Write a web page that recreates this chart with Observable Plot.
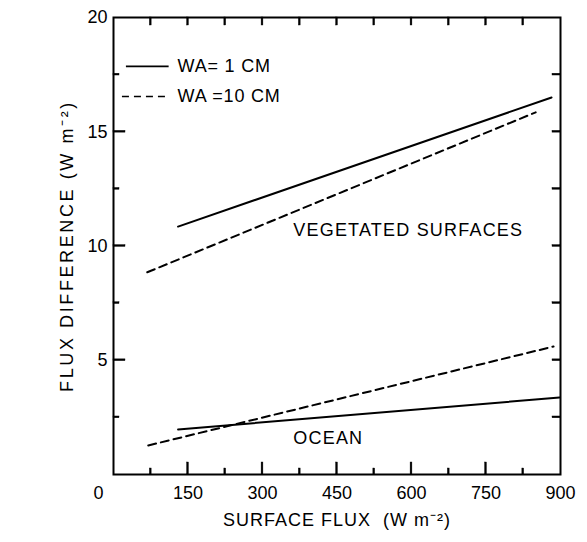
<!DOCTYPE html>
<html>
<head>
<meta charset="utf-8">
<script src="https://cdn.jsdelivr.net/npm/d3@7"></script>
<script src="https://cdn.jsdelivr.net/npm/@observablehq/plot@0.6"></script>
<style>
  html, body { margin: 0; padding: 0; background: #fff; }
  #chart { width: 587px; height: 542px; }
</style>
</head>
<body>
<div id="chart"></div>
<script>
// ---- data ----
const surfaces = ["VEGETATED SURFACES", "OCEAN"];
const series = ["WA= 1 CM", "WA =10 CM"];
// each line: two end points (surface flux, flux difference)
const vegSolidX = [130, 882];
const vegSolidY = [10.85, 16.5];
const vegDashX = [68, 850];
const vegDashY = [8.85, 15.85];
const oceanSolidX = [130, 898];
const oceanSolidY = [1.97, 3.37];
const oceanDashX = [70, 886];
const oceanDashY = [1.27, 5.6];

const xMajor = [150, 300, 450, 600, 750, 900];
const xMinor = [75, 225, 375, 525, 675, 825];
const yMajor = [5, 10, 15, 20];
const yMinor = [2.5, 7.5, 12.5, 17.5];
const xTitle = "SURFACE FLUX  (W m⁻²)";
const yTitle = "FLUX DIFFERENCE (W m⁻²)";

// annotation anchors (data space)
const surfaceLabelX = [362, 362];
const surfaceLabelY = [10.7, 1.6];
const legendX1 = [25, 17];
const legendX2 = [111, 107];
const legendY = [17.86, 16.54];
const legendTextX = 129;

// ---- layout ----
const W = 587, H = 542, mL = 113, mR = 27, mT = 17, mB = 68;
const xDomain = [0, 900], yDomain = [0, 20];
const pxPerX = (W - mL - mR) / (xDomain[1] - xDomain[0]);
const pxPerY = (H - mT - mB) / (yDomain[1] - yDomain[0]);

// ---- build tables ----
const pts = (xs, ys, surface, s) => xs.map((x, i) => ({x, y: ys[i], surface, series: s}));
const lines = [
  ...pts(vegSolidX, vegSolidY, surfaces[0], series[0]),
  ...pts(vegDashX, vegDashY, surfaces[0], series[1]),
  ...pts(oceanSolidX, oceanSolidY, surfaces[1], series[0]),
  ...pts(oceanDashX, oceanDashY, surfaces[1], series[1])
];
const solid = lines.filter(d => d.series === series[0]);
const dashed = lines.filter(d => d.series === series[1]);
const surfLabels = surfaces.map((t, i) => ({t, x: surfaceLabelX[i], y: surfaceLabelY[i]}));
const legend = series.map((s, i) => ({s, x1: legendX1[i], x2: legendX2[i], y: legendY[i]}));

// inward ticks as thin filled rects (side, values, pixel length)
const tickSpecs = [
  ["bottom", xMajor.slice(0, 5), 12], ["bottom", xMinor, 6],
  ["top", xMajor.slice(0, 5), 8], ["top", xMinor, 8],
  ["left", yMajor.slice(0, 3), 12], ["left", yMinor, 6],
  ["right", yMajor.slice(0, 3), 8], ["right", yMinor, 8]
];
const half = 0.9; // half tick thickness, px
function tickMark([side, vals, len]) {
  const hx = half / pxPerX, hy = half / pxPerY, lx = len / pxPerX, ly = len / pxPerY;
  const o = {fill: "black", stroke: "black", strokeWidth: 0.4};
  if (side === "bottom") return Plot.rect(vals, {...o, x1: d => d - hx, x2: d => d + hx, y1: yDomain[0], y2: yDomain[0] + ly});
  if (side === "top") return Plot.rect(vals, {...o, x1: d => d - hx, x2: d => d + hx, y1: yDomain[1] - ly, y2: yDomain[1]});
  if (side === "left") return Plot.rect(vals, {...o, y1: d => d - hy, y2: d => d + hy, x1: xDomain[0], x2: xDomain[0] + lx});
  return Plot.rect(vals, {...o, y1: d => d - hy, y2: d => d + hy, x1: xDomain[1] - lx, x2: xDomain[1]});
}

const chart = Plot.plot({
  width: W, height: H,
  marginLeft: mL, marginRight: mR, marginTop: mT, marginBottom: mB,
  x: {domain: xDomain, axis: null},
  y: {domain: yDomain, axis: null},
  style: {fontFamily: "Liberation Sans", background: "white", color: "black"},
  marks: [
    Plot.frame({stroke: "black", strokeWidth: 2}),
    ...tickSpecs.map(tickMark),
    Plot.line(solid, {x: "x", y: "y", z: "surface", stroke: "black", strokeWidth: 2}),
    Plot.line(dashed, {x: "x", y: "y", z: "surface", stroke: "black", strokeWidth: 2, strokeDasharray: "8,5"}),
    // tick labels
    Plot.text(xMajor, {x: d => d, y: 0, dy: 19, text: d => String(d), fontSize: 18, fill: "black"}),
    Plot.text([0], {x: d => d, y: 0, dy: 19, dx: -15, text: d => String(d), fontSize: 18, fill: "black"}),
    Plot.text(yMajor, {x: 0, y: d => d, dx: -6, text: d => String(d), textAnchor: "end", fontSize: 18, fill: "black"}),
    // axis titles
    Plot.text([xTitle], {frameAnchor: "bottom", textAnchor: "middle", dy: 51, text: d => d, fontSize: 18, fill: "black"}),
    Plot.text([yTitle], {frameAnchor: "left", textAnchor: "middle", dx: -46, dy: 0, rotate: -90, text: d => d, fontSize: 18, fill: "black"}),
    // annotations
    Plot.text(surfLabels, {x: "x", y: "y", text: "t", textAnchor: "start", fontSize: 18, fill: "black"}),
    // legend
    Plot.link(legend.filter((d, i) => i === 0), {x1: "x1", x2: "x2", y1: "y", y2: "y", stroke: "black", strokeWidth: 1.6}),
    Plot.link(legend.filter((d, i) => i === 1), {x1: "x1", x2: "x2", y1: "y", y2: "y", stroke: "black", strokeWidth: 1.6, strokeDasharray: "7,5"}),
    Plot.text(legend, {x: legendTextX, y: "y", text: "s", textAnchor: "start", fontSize: 18, fill: "black"})
  ]
});
// letter spacing to match the wide-set lettering of the original
const textGroups = chart.querySelectorAll("g[aria-label='text']");
const spacing = [0, 0, 0, 1.0, 2.6, 1.2, 0.8];
textGroups.forEach((g, i) => g.setAttribute("letter-spacing", spacing[i] ?? 0));
document.getElementById("chart").appendChild(chart);
</script>
</body>
</html>
